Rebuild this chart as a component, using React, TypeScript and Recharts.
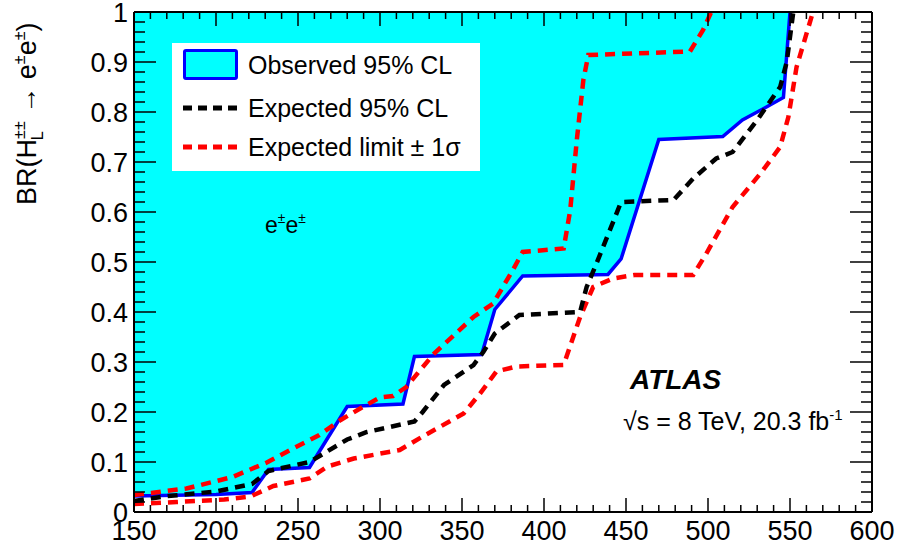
import React from "react";
import { ComposedChart, Area, Line, XAxis, YAxis, ReferenceLine } from "recharts";

// H±± mass [GeV] and BR limit
const observedMass = [150, 200, 222, 232, 257, 280, 314, 321, 362, 370, 387, 439, 447, 470, 509, 521, 534, 546, 550];
const observedLimit = [0.032, 0.035, 0.039, 0.085, 0.089, 0.211, 0.216, 0.311, 0.315, 0.405, 0.472, 0.475, 0.506, 0.745, 0.751, 0.784, 0.807, 0.829, 1.0];

const expectedMass = [150, 168, 200, 222, 232, 257, 280, 292, 321, 326, 339, 357, 363, 370, 385, 422, 426, 432, 447, 479, 491, 505, 515, 530, 544, 548, 552];
const expectedLimit = [0.022, 0.031, 0.041, 0.056, 0.082, 0.1, 0.145, 0.16, 0.181, 0.2, 0.254, 0.294, 0.32, 0.357, 0.394, 0.4, 0.45, 0.497, 0.62, 0.624, 0.667, 0.707, 0.72, 0.784, 0.85, 0.9, 1.0];

const plusSigmaMass = [150, 182, 210, 231, 247, 263, 276, 290, 300, 308, 316, 333, 357, 369, 381, 387, 412, 416, 420, 424, 427, 489, 497, 502];
const plusSigmaLimit = [0.034, 0.047, 0.07, 0.099, 0.127, 0.154, 0.184, 0.211, 0.229, 0.232, 0.25, 0.317, 0.39, 0.417, 0.484, 0.52, 0.527, 0.604, 0.744, 0.864, 0.914, 0.921, 0.964, 1.0];

const minusSigmaMass = [150, 176, 205, 221, 235, 257, 268, 284, 312, 326, 351, 361, 371, 383, 412, 422, 430, 442, 455, 491, 499, 515, 532, 544, 549, 554, 564];
const minusSigmaLimit = [0.016, 0.02, 0.025, 0.031, 0.052, 0.067, 0.091, 0.107, 0.124, 0.151, 0.197, 0.237, 0.281, 0.291, 0.294, 0.39, 0.45, 0.467, 0.474, 0.474, 0.517, 0.61, 0.677, 0.73, 0.79, 0.89, 1.0];

const xLabels = [150, 200, 250, 300, 350, 400, 450, 500, 550, 600];
const yLabels = [0, 0.1, 0.2, 0.3, 0.4, 0.5, 0.6, 0.7, 0.8, 0.9, 1];

const xTicks = Array.from({ length: 46 }, (_, i) => 150 + i * 10);
const yTicks = Array.from({ length: 51 }, (_, i) => Math.round(i * 2) / 100);

// merge everything into one table keyed by mass
const rows = new Map<number, any>();
const add = (ms: number[], vs: number[], key: string) => {
  ms.forEach((m, i) => {
    if (!rows.has(m)) rows.set(m, { mass: m });
    rows.get(m)[key] = vs[i];
  });
};
add(observedMass, observedLimit, "observed");
add(expectedMass, expectedLimit, "expected");
add(plusSigmaMass, plusSigmaLimit, "plus");
add(minusSigmaMass, minusSigmaLimit, "minus");
const data = Array.from(rows.values()).sort((a, b) => a.mass - b.mass);

const W = 899;
const H = 549;
const Y_AXIS_W = 60;
const X_AXIS_H = 30;
// plot area: x 134..872, y 12..512
const margin = { top: 12, left: 134 - Y_AXIS_W, right: 27, bottom: 37 - X_AXIS_H };
const plotW = 872 - 134;
const plotH = 512 - 12;
const font = '"Liberation Sans", Arial, Helvetica, sans-serif';

const XTick = (props: any) => {
  const { x, y, payload } = props;
  const v = payload.value;
  const major = xLabels.includes(v);
  const len = major ? 14 : 7;
  return (
    <g>
      <line x1={x} x2={x} y1={y} y2={y - len} stroke="#000" strokeWidth={1.5} />
      <line x1={x} x2={x} y1={y - plotH} y2={y - plotH + len} stroke="#000" strokeWidth={1.5} />
      {major && (
        <text x={x} y={y + 28} textAnchor="middle" fontSize={27} fontFamily={font} fill="#000">
          {v}
        </text>
      )}
    </g>
  );
};

const YTick = (props: any) => {
  const { x, y, payload } = props;
  const v = payload.value;
  const major = Math.round(v * 100) % 10 === 0;
  const len = major ? 22 : 11;
  return (
    <g>
      <line x1={x} x2={x + len} y1={y} y2={y} stroke="#000" strokeWidth={1.5} />
      <line x1={x + plotW} x2={x + plotW - len} y1={y} y2={y} stroke="#000" strokeWidth={1.5} />
      {major && (
        <text x={x - 6} y={y} dy="0.36em" textAnchor="end" fontSize={27} fontFamily={font} fill="#000">
          {String(Math.round(v * 10) / 10)}
        </text>
      )}
    </g>
  );
};

const abs = (left: number, top: number, extra: any = {}) => ({
  position: "absolute" as const,
  left,
  top,
  whiteSpace: "nowrap" as const,
  fontFamily: font,
  color: "#000",
  ...extra,
});

const sup = { fontSize: "0.6em", verticalAlign: "0.7em", lineHeight: 0 };

export default function App() {
  return (
    <div style={{ position: "absolute", left: 0, top: 0, width: W, height: H, background: "#fff" }}>
      <ComposedChart width={W} height={H} data={data} margin={margin}>
        <Area
          dataKey="observed"
          type="linear"
          baseValue={1}
          fill="#00ffff"
          fillOpacity={1}
          stroke="#0000ff"
          strokeWidth={3.5}
          connectNulls
          dot={false}
          activeDot={false}
          isAnimationActive={false}
        />
        <Line dataKey="plus" type="linear" stroke="#ff0000" strokeWidth={4.5} strokeDasharray="10 7" connectNulls dot={false} activeDot={false} isAnimationActive={false} />
        <Line dataKey="minus" type="linear" stroke="#ff0000" strokeWidth={4.5} strokeDasharray="10 7" connectNulls dot={false} activeDot={false} isAnimationActive={false} />
        <Line dataKey="expected" type="linear" stroke="#000000" strokeWidth={4.5} strokeDasharray="10 7" connectNulls dot={false} activeDot={false} isAnimationActive={false} />
        <ReferenceLine y={1} stroke="#000" strokeWidth={2} />
        <ReferenceLine x={600} stroke="#000" strokeWidth={2} />
        <XAxis
          dataKey="mass"
          type="number"
          domain={[150, 600]}
          ticks={xTicks}
          interval={0}
          height={X_AXIS_H}
          tickSize={0}
          tickMargin={0}
          tickLine={false}
          axisLine={{ stroke: "#000", strokeWidth: 2 }}
          tick={<XTick />}
          allowDataOverflow
        />
        <YAxis
          type="number"
          domain={[0, 1]}
          ticks={yTicks}
          interval={0}
          width={Y_AXIS_W}
          tickSize={0}
          tickMargin={0}
          tickLine={false}
          axisLine={{ stroke: "#000", strokeWidth: 2 }}
          tick={<YTick />}
          allowDataOverflow
        />
      </ComposedChart>

      {/* legend */}
      <div style={abs(172, 43, { width: 308, height: 128, background: "#fff" })} />
      <div
        style={abs(183, 49, {
          width: 55,
          height: 31,
          boxSizing: "border-box",
          border: "3px solid #0000ff",
          borderRadius: 3,
          background: "#00ffff",
        })}
      />
      <div style={abs(248, 50, { fontSize: 25, lineHeight: "30px" })}>Observed 95% CL</div>
      <svg style={abs(183, 103)} width={56} height={10}>
        <line x1={0} x2={56} y1={5} y2={5} stroke="#000" strokeWidth={5} strokeDasharray="9 6" />
      </svg>
      <div style={abs(248, 93, { fontSize: 25, lineHeight: "30px" })}>Expected 95% CL</div>
      <svg style={abs(183, 142)} width={56} height={10}>
        <line x1={0} x2={56} y1={5} y2={5} stroke="#ff0000" strokeWidth={5} strokeDasharray="9 6" />
      </svg>
      <div style={abs(248, 132, { fontSize: 25, lineHeight: "30px" })}>Expected limit ± 1σ</div>

      {/* annotations */}
      <div style={abs(265, 211, { fontSize: 23, lineHeight: "28px" })}>
        e<span style={sup}>±</span>e<span style={sup}>±</span>
      </div>
      <div style={abs(630, 364, { fontSize: 28, lineHeight: "32px", fontWeight: "bold", fontStyle: "italic" })}>ATLAS</div>
      <div style={abs(623, 406, { fontSize: 25, lineHeight: "30px" })}>
        √s = 8 TeV, 20.3 fb<span style={sup}>-1</span>
      </div>

      {/* y axis title */}
      <div
        style={abs(12, 205, {
          fontSize: 27,
          lineHeight: "30px",
          transform: "rotate(-90deg)",
          transformOrigin: "0 0",
        })}
      >
        BR(H<span style={sup}>±±</span>
        <span
          style={{
            fontSize: "0.6em",
            verticalAlign: "-0.45em",
            lineHeight: 0,
            display: "inline-block",
            width: "1.17em",
            marginLeft: "-1.17em",
          }}
        >
          L
        </span>
        {" → e"}
        <span style={sup}>±</span>e<span style={sup}>±</span>)
      </div>
    </div>
  );
}
